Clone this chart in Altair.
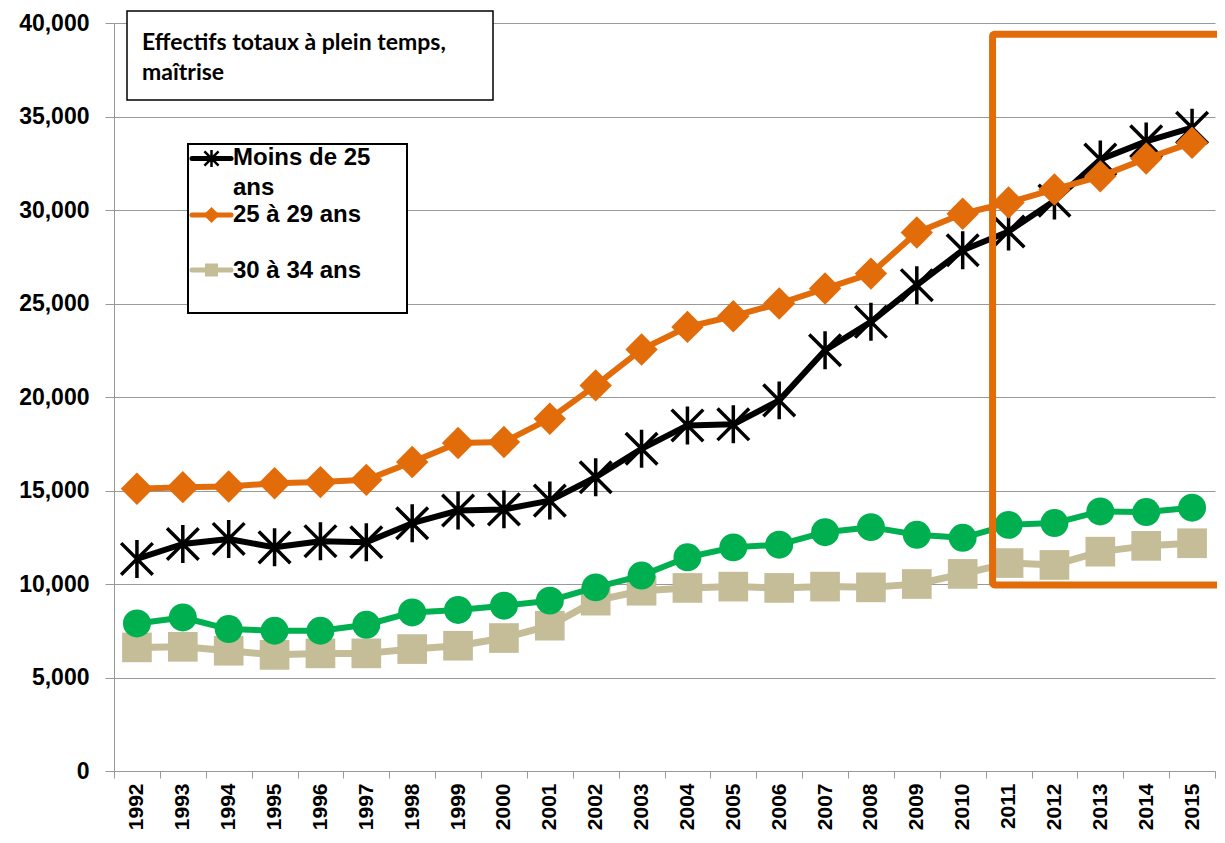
import altair as alt
import pandas as pd

# ---------------- data ----------------
years = [1992, 1993, 1994, 1995, 1996, 1997, 1998, 1999, 2000, 2001, 2002, 2003,
         2004, 2005, 2006, 2007, 2008, 2009, 2010, 2011, 2012, 2013, 2014, 2015]
moins_25 = [11340, 12140, 12410, 11960, 12290, 12230, 13250, 13930, 13990, 14460, 15710, 17230,
            18480, 18540, 19820, 22500, 24020, 25980, 27850, 28850, 30500, 32700, 33670, 34400]
ans_25_29 = [15090, 15180, 15210, 15390, 15450, 15570, 16520, 17540, 17590, 18840, 20620, 22540,
             23750, 24320, 25000, 25800, 26600, 28800, 29800, 30400, 31100, 31800, 32750, 33600]
ans_30_34 = [6610, 6640, 6430, 6210, 6290, 6290, 6520, 6700, 7110, 7770, 9110, 9640,
             9790, 9860, 9790, 9860, 9820, 10000, 10540, 11120, 11020, 11730, 12040, 12180]
ans_35_plus = [7890, 8210, 7590, 7500, 7500, 7820, 8480, 8610, 8840, 9110, 9820, 10450,
               11430, 11960, 12100, 12770, 13040, 12630, 12470, 13160, 13260, 13880, 13850, 14080]

series_names = ["Moins de 25 ans", "25 à 29 ans", "30 à 34 ans", "35 ans et plus"]
legend_labels = [["Moins de 25", "ans"], ["25 à 29 ans"], ["30 à 34 ans"]]
title_lines = ["Effectifs totaux à plein temps,", "maîtrise"]
y_ticks = [0, 5000, 10000, 15000, 20000, 25000, 30000, 35000, 40000]
highlight_start_year = [2011]
highlight_low = [9950]
highlight_high = [39400]

# ---------------- styles ----------------
ASTERISK = "M-1,-1L1,1M1,-1L-1,1M0,-1.2L0,1.2"
styles = {
    "Moins de 25 ans": dict(color="#000000", lw=6, shape=ASTERISK, size=1000, filled=False, sw=3.5, lsize=200),
    "25 à 29 ans": dict(color="#E36C0A", lw=6, shape="diamond", size=1050, filled=True, sw=0, lsize=260),
    "30 à 34 ans": dict(color="#C4BD97", lw=7, shape="square", size=880, filled=True, sw=0, lsize=170),
    "35 ans et plus": dict(color="#00B050", lw=6, shape="circle", size=780, filled=True, sw=0, lsize=200),
}

W, H = 1101, 748
FONT = "Liberation Sans, Arial, sans-serif"

rows = []
for name, vals in zip(series_names, [moins_25, ans_25_29, ans_30_34, ans_35_plus]):
    for yr, v in zip(years, vals):
        rows.append({"year": yr, "value": v, "series": name})
df = pd.DataFrame(rows)

xscale = alt.Scale(type="band", paddingInner=0, paddingOuter=0, domain=years)
yscale = alt.Scale(domain=[0, 40000], nice=False)
xaxis = alt.Axis(title=None, labelAngle=270, tickBand="extent", tickSize=7, labelPadding=5,
                 grid=False, domainColor="#999999", tickColor="#999999",
                 labelFont=FONT, labelFontWeight="bold", labelFontSize=21, labelColor="#000000")
yaxis = alt.Axis(title=None, values=y_ticks, format=",.0f", tickSize=9, labelPadding=16,
                 grid=True, gridColor="#999999", gridWidth=1,
                 domainColor="#999999", tickColor="#999999",
                 labelFont=FONT, labelFontWeight="bold", labelFontSize=23, labelColor="#000000")

X = alt.X("year:O", scale=xscale, axis=xaxis)
Y = alt.Y("value:Q", scale=yscale, axis=yaxis)

base = alt.Chart(df)
layers = []
for name in series_names:
    st = styles[name]
    sub = base.transform_filter(alt.datum.series == name)
    layers.append(sub.mark_line(color=st["color"], strokeWidth=st["lw"], strokeJoin="round")
                  .encode(x=X, y=Y))
    if st["filled"]:
        pm = sub.mark_point(shape=st["shape"], size=st["size"], filled=True, fill=st["color"],
                            color=st["color"], opacity=1, strokeWidth=0)
    else:
        pm = sub.mark_point(shape=st["shape"], size=st["size"], filled=False, stroke=st["color"],
                            strokeWidth=st["sw"], opacity=1)
    layers.append(pm.encode(x=X, y=Y))

# highlight box (2011-2015)
hl_df = pd.DataFrame({"year": highlight_start_year, "value": highlight_low, "top": highlight_high})
highlight = alt.Chart(hl_df).mark_rect(filled=False, stroke="#E36C0A", strokeWidth=7,
                                       strokeJoin="round", xOffset=-16, cornerRadius=2).encode(
    x=X, x2=alt.value(W + 40), y=Y, y2=alt.Y2("top:Q"))

one = alt.Data(values=[{"k": 0}])

# title box
title_box = alt.Chart(one).mark_rect(fill="white", stroke="black", strokeWidth=1.5).encode(
    x=alt.value(13), x2=alt.value(379), y=alt.value(-12), y2=alt.value(77))
title_text = alt.Chart(one).mark_text(align="left", baseline="alphabetic", font="Lato",
                                      fontWeight="bold", fontSize=23, lineHeight=30,
                                      color="black").encode(
    x=alt.value(28), y=alt.value(27), text=alt.value(title_lines))

# custom legend
legend_layers = [alt.Chart(one).mark_rect(fill="white", stroke="black", strokeWidth=2).encode(
    x=alt.value(74), x2=alt.value(293), y=alt.value(121), y2=alt.value(290))]
row_y = [135.5, 192, 247]
text_y = [142, 198.7, 254.7]
for i, (name, lab) in enumerate(zip(series_names[:3], legend_labels)):
    st = styles[name]
    legend_layers.append(alt.Chart(one).mark_rule(color=st["color"], strokeWidth=5, strokeCap="round").encode(
        x=alt.value(78), x2=alt.value(117), y=alt.value(row_y[i])))
    if st["filled"]:
        lp = alt.Chart(one).mark_point(shape=st["shape"], size=st["lsize"], filled=True,
                                       fill=st["color"], opacity=1, strokeWidth=0)
    else:
        lp = alt.Chart(one).mark_point(shape=st["shape"], size=st["lsize"], filled=False,
                                       stroke=st["color"], strokeWidth=2.5, opacity=1)
    legend_layers.append(lp.encode(x=alt.value(97.5), y=alt.value(row_y[i])))
    legend_layers.append(alt.Chart(one).mark_text(align="left", baseline="alphabetic", font=FONT,
                                                  fontWeight="bold", fontSize=24, lineHeight=30,
                                                  color="black").encode(
        x=alt.value(119), y=alt.value(text_y[i]), text=alt.value(lab)))

chart = alt.layer(*layers, highlight, title_box, title_text, *legend_layers).properties(
    width=W, height=H,
    autosize=alt.AutoSizeParams(type="none"),
    padding={"left": 106, "top": 15, "right": 2, "bottom": 64},
).configure_view(stroke=None).resolve_scale(x="shared", y="shared")

chart.save("out.html", embed_options={"renderer": "svg", "actions": False})
